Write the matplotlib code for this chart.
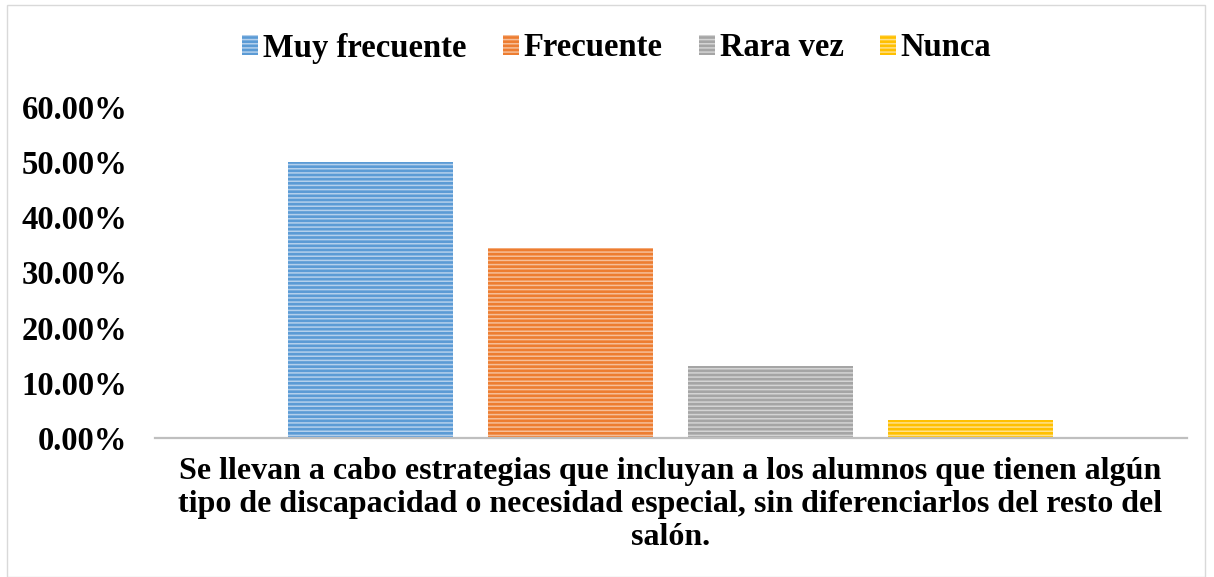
import matplotlib.pyplot as plt
from matplotlib.patches import Rectangle

plt.rcParams['font.family'] = ['Liberation Serif', 'DejaVu Serif']
plt.rcParams['font.weight'] = 'bold'
plt.rcParams['hatch.linewidth'] = 1.1

series = ["Muy frecuente", "Frecuente", "Rara vez", "Nunca"]
values = [0.50, 0.344, 0.131, 0.032]
colors = ["#5B9BD5", "#ED7D31", "#A5A5A5", "#FFC000"]
stripes = ["#B4D0EC", "#F6BE98", "#D4D4D4", "#FFE08A"]
category = ("Se llevan a cabo estrategias que incluyan a los alumnos que tienen algún\n"
            "tipo de discapacidad o necesidad especial, sin diferenciarlos del resto del\n"
            "salón.")
yticks = [0, 0.1, 0.2, 0.3, 0.4, 0.5, 0.6]

fig = plt.figure(figsize=(12.14, 5.77), dpi=100)
ax = fig.add_axes([155 / 1214, 1 - 438 / 577, 1032 / 1214, 331 / 577])

for i, (name, v, c, s) in enumerate(zip(series, values, colors, stripes)):
    ax.bar(i, v, width=0.825, color=c, edgecolor=s, hatch='----', linewidth=0, label=name)

ax.set_xlim(-1.0775, 4.0825)
ax.set_ylim(0, 0.6)
ax.set_yticks(yticks)
ax.set_yticklabels([f"{t * 100:.2f}%" for t in yticks], fontsize=23.5)
ax.set_xticks([1.5])
ax.set_xticklabels([category], fontsize=23, linespacing=1.17)
ax.tick_params(length=0)
ax.tick_params(axis='x', pad=14)
ax.tick_params(axis='y', pad=20)
for side in ['left', 'right', 'top']:
    ax.spines[side].set_visible(False)
ax.spines['bottom'].set_color('#BFBFBF')
ax.spines['bottom'].set_linewidth(1.6)

fig.legend(loc='center', bbox_to_anchor=(0.508, 1 - 48 / 577), ncol=4, frameon=False,
           fontsize=23.5, handlelength=0.5, handleheight=0.6, handletextpad=0.15,
           columnspacing=1.1)

fig.patches.append(Rectangle((7 / 1214, 0), 1198 / 1214, 1 - 5 / 577, transform=fig.transFigure,
                             fill=False, edgecolor='#D9D9D9', linewidth=1))

fig.savefig("out.png", dpi=100)
